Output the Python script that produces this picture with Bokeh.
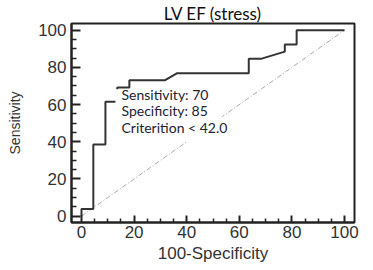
from bokeh.plotting import figure
from bokeh.embed import file_html
from bokeh.resources import INLINE
from bokeh.models import FixedTicker
from bokeh.core.properties import value

# ROC curve (100-Specificity, Sensitivity)
fpr = [0, 0, 4.5, 4.5, 9.1, 9.1, 13.6, 13.6, 18.2, 18.2, 31.8, 36.4,
       63.6, 63.6, 68.2, 77.3, 77.3, 81.8, 81.8, 100]
sens = [0, 3.8, 3.8, 38.5, 38.5, 61.5, 61.5, 69.2, 69.2, 73.1, 73.1, 76.9,
        76.9, 84.6, 84.6, 88.5, 92.3, 92.3, 100, 100]
ref_x = [0, 100]
ref_y = [0, 100]
ticks = [0, 20, 40, 60, 80, 100]
minor = [5, 10, 15, 25, 30, 35, 45, 50, 55, 65, 70, 75, 85, 90, 95]
notes = ["Sensitivity: 70", "Specificity: 85", "Criterition < 42.0"]

p = figure(width=373, height=270, output_backend="svg", toolbar_location=None,
           x_range=(-3.8, 103.8), y_range=(-3.4, 103.6),
           min_border_left=71, min_border_right=19, min_border_top=21,
           min_border_bottom=48)
p.title.text = "LV EF (stress)"
p.title.align = "center"
p.title.text_font = "Lato"
p.title.text_font_size = "17px"
p.title.text_font_style = "normal"
p.title.text_color = "#111111"
p.title.offset = -3
p.title.standoff = 0

p.grid.visible = False
p.background_fill_color = "white"
p.outline_line_color = "#222222"
p.outline_line_width = 2

for ax in (p.xaxis[0], p.yaxis[0]):
    ax.ticker = FixedTicker(ticks=ticks, minor_ticks=minor)
    ax.axis_line_color = "#222222"
    ax.axis_line_width = 2
    ax.major_tick_line_color = "#222222"
    ax.major_tick_line_width = 2
    ax.minor_tick_line_color = "#222222"
    ax.minor_tick_line_width = 1.5
    ax.major_tick_out = 0
    ax.minor_tick_out = 0
    ax.major_label_text_font = "Liberation Sans"
    ax.major_label_text_font_size = "17px"
    ax.major_label_text_color = "#333333"
    ax.axis_label_text_font = "Liberation Sans"
    ax.axis_label_text_font_style = "normal"
    ax.axis_label_text_color = "#333333"

p.xaxis.major_tick_in = 7
p.xaxis.minor_tick_in = 4
p.yaxis.major_tick_in = 9
p.yaxis.minor_tick_in = 5
p.xaxis.major_label_standoff = 3
p.yaxis.major_label_standoff = 5
p.xaxis.axis_label = "100-Specificity"
p.xaxis.axis_label_text_font_size = "17px"
p.xaxis.axis_label_standoff = 3
p.yaxis.axis_label = "Sensitivity"
p.yaxis.axis_label_text_font_size = "14px"
p.yaxis.axis_label_standoff = 12

p.line(ref_x, ref_y, line_color="#aaaaaa", line_width=1, line_dash="5 2 1 2")
p.line(fpr, sens, line_color="#333333", line_width=2)

# white box behind the annotation
p.quad(left=[12.9], right=[53.5], bottom=[40.0], top=[68.3],
       fill_color="white", line_color=None)
p.text(x=[15.2, 15.2, 15.2], y=[65.4, 56.8, 47.7], text=notes,
       text_font=value("Lato"), text_font_size="14px",
       text_color="#222233", text_baseline="middle", text_align="left")

open("out.html", "w").write(file_html(p, INLINE))
